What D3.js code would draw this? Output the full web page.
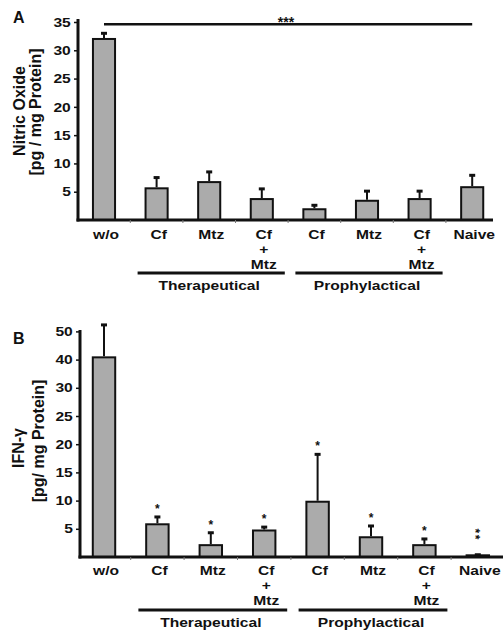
<!DOCTYPE html>
<html>
<head>
<meta charset="utf-8">
<script src="https://cdn.jsdelivr.net/npm/d3@7"></script>
<style>
  body { margin: 0; background: #fff; }
  svg { display: block; }
  text { font-family: "Liberation Sans", Arial, Helvetica, sans-serif; font-weight: bold; fill: #111; }
</style>
</head>
<body>
<svg id="chart" width="503" height="631"></svg>
<script>
//
// Data
//

// x labels, one entry per bar, split into lines
var categories = [['w/o'], ['Cf'], ['Mtz'], ['Cf', '+', 'Mtz'], ['Cf'], ['Mtz'], ['Cf', '+', 'Mtz'], ['Naive']]
var groups = [
  { name: 'Therapeutical', from: 1, to: 3 },
  { name: 'Prophylactical', from: 4, to: 6 }
]

// panel A: nitric oxide
var noMean = [32.0, 5.6, 6.7, 3.7, 1.9, 3.4, 3.7, 5.8]
var noErr = [1.0, 1.9, 1.8, 1.8, 0.7, 1.7, 1.4, 2.1]
var noTicks = [5, 10, 15, 20, 25, 30, 35]

// panel B: IFN-gamma
var ifnMean = [40.8, 5.8, 2.1, 4.7, 9.8, 3.5, 2.1, 0.3]
var ifnErr = [11.5, 1.3, 2.2, 0.6, 8.4, 2.0, 1.1, 0.1]
var ifnStars = ['', '*', '*', '*', '*', '*', '*', '**']
var ifnTicks = [5, 10, 15, 20, 25, 30, 40, 50]

// the lettering of the original is a bit wider than it is tall
var stretch = 1.2

//
// Drawing
//

var svg = d3.select('#chart')
var idx = d3.range(categories.length)

function wideText(g, x, y, size) {
  return g.append('text')
    .attr('transform', 'translate(' + x + ',' + y + ') scale(' + stretch + ',1)')
    .attr('text-anchor', 'middle')
    .style('font-size', size + 'px')
}

function panel(opt) {
  var g = svg.append('g')
  var x = d3.scaleBand().domain(idx).range(opt.xRange).paddingInner(0.58).paddingOuter(0.29)
  var y = opt.y
  var y0 = y(0)
  var cx = function(i) { return x(i) + x.bandwidth() / 2 }

  // bars
  g.selectAll('rect.bar')
    .data(idx)
    .enter()
    .append('rect')
    .attr('x', function(i) { return x(i) })
    .attr('y', function(i) { return y(opt.mean[i]) })
    .attr('width', x.bandwidth())
    .attr('height', function(i) { return y0 - y(opt.mean[i]) })
    .attr('fill', '#ababab')
    .attr('stroke', '#111')
    .attr('stroke-width', 2)

  // error bars (upper only)
  g.selectAll('line.err')
    .data(idx)
    .enter()
    .append('line')
    .attr('x1', cx).attr('x2', cx)
    .attr('y1', function(i) { return y(opt.mean[i]) - 1 })
    .attr('y2', function(i) { return y(opt.mean[i] + opt.err[i]) })
    .attr('stroke', '#111')
    .attr('stroke-width', 2)
  g.selectAll('line.cap')
    .data(idx)
    .enter()
    .append('line')
    .attr('x1', function(i) { return cx(i) - 3 })
    .attr('x2', function(i) { return cx(i) + 3 })
    .attr('y1', function(i) { return y(opt.mean[i] + opt.err[i]) })
    .attr('y2', function(i) { return y(opt.mean[i] + opt.err[i]) })
    .attr('stroke', '#111')
    .attr('stroke-width', 3)

  // y axis
  var yAxis = g.append('g')
    .attr('transform', 'translate(' + opt.axisX + ',0)')
    .call(d3.axisLeft(y).tickValues(opt.ticks).tickSize(4).tickPadding(3).tickFormat(d3.format('d')))
  yAxis.select('.domain').remove()
  yAxis.selectAll('.tick line').attr('stroke', '#111').attr('stroke-width', 1.5)
  yAxis.selectAll('.tick text')
    .style('font-size', '13px')
    .attr('fill', '#111')
    .attr('x', -6)
    .attr('transform', 'scale(' + stretch + ',1)')
  g.append('line')
    .attr('x1', opt.axisX).attr('x2', opt.axisX)
    .attr('y1', opt.axisTop).attr('y2', y0 + 1.5)
    .attr('stroke', '#111').attr('stroke-width', 3)

  // x axis with small ticks between bars
  g.append('line')
    .attr('x1', opt.axisX - 1.5).attr('x2', opt.xEnd)
    .attr('y1', y0).attr('y2', y0)
    .attr('stroke', '#111').attr('stroke-width', 3)
  g.selectAll('line.xtick')
    .data(idx.slice(1))
    .enter()
    .append('line')
    .attr('x1', function(i) { return x(i) - x.step() * 0.29 })
    .attr('x2', function(i) { return x(i) - x.step() * 0.29 })
    .attr('y1', y0).attr('y2', y0 + 3)
    .attr('stroke', '#777').attr('stroke-width', 1)

  // category labels
  idx.forEach(function(i) {
    var t = wideText(g, cx(i) + 2, opt.labelY, 13)
    categories[i].forEach(function(s, k) {
      t.append('tspan').attr('x', 0).attr('y', k * 15).text(s)
    })
  })

  // treatment groups
  groups.forEach(function(gr) {
    var a = cx(gr.from) - 19
    var b = cx(gr.to) + 23
    g.append('line')
      .attr('x1', a).attr('x2', b)
      .attr('y1', opt.groupY).attr('y2', opt.groupY)
      .attr('stroke', '#111').attr('stroke-width', 3)
    wideText(g, (a + b) / 2 - 2, opt.groupY + 17, 13).text(gr.name)
  })

  // panel letter
  g.append('text')
    .attr('x', 13).attr('y', opt.letterY)
    .style('font-size', '16px')
    .text(opt.letter)

  // y title
  opt.title.forEach(function(t) {
    g.append('text')
      .attr('transform', 'translate(' + t.x + ',' + t.y + ') rotate(-90)')
      .attr('text-anchor', 'middle')
      .style('font-size', '16px')
      .text(t.s)
  })

  return { g: g, x: x, y: y, cx: cx }
}

// Panel A
var a = panel({
  letter: 'A', letterY: 23,
  mean: noMean, err: noErr, ticks: noTicks,
  y: d3.scaleLinear().domain([0, 35]).range([220, 22]),
  xRange: [77.7, 498.5], axisX: 78, axisTop: 19, xEnd: 493,
  labelY: 239, groupY: 273,
  title: [{ s: 'Nitric Oxide', x: 25, y: 111 }, { s: '[pg / mg Protein]', x: 41, y: 112 }]
})

// significance bar over all groups
var sigY = a.y(34.6)
a.g.append('line')
  .attr('x1', a.cx(0)).attr('x2', a.cx(7))
  .attr('y1', sigY).attr('y2', sigY)
  .attr('stroke', '#111').attr('stroke-width', 2.5)
a.g.append('text')
  .attr('x', 286).attr('y', sigY + 3)
  .attr('text-anchor', 'middle')
  .style('font-size', '14px')
  .text('***')

// Panel B (axis is compressed above 30)
var b = panel({
  letter: 'B', letterY: 344,
  mean: ifnMean, err: ifnErr, ticks: ifnTicks,
  y: d3.scaleLinear().domain([0, 30, 50]).range([557, 387.8, 331.4]),
  xRange: [77.3, 504.5], axisX: 80, axisTop: 330, xEnd: 503,
  labelY: 575, groupY: 610,
  title: [{ s: 'IFN-\u03b3', x: 24, y: 448 }, { s: '[pg/ mg Protein]', x: 44, y: 441 }]
})

// significance stars; several stars are stacked, so the text is turned upright
idx.filter(function(i) { return ifnStars[i] }).forEach(function(i) {
  var n = ifnStars[i].length
  var top = b.y(ifnMean[i] + ifnErr[i])
  var t = b.g.append('text')
    .style('font-size', '12px')
    .attr('text-anchor', 'middle')
    .text(ifnStars[i])
  if (n === 1) {
    t.attr('x', b.cx(i)).attr('y', top - 11 + 7)
  } else {
    t.attr('letter-spacing', '1.5px')
      .attr('transform', 'translate(' + (b.cx(i) - 7) + ',' + (top - 20) + ') rotate(90)')
  }
})
</script>
</body>
</html>
